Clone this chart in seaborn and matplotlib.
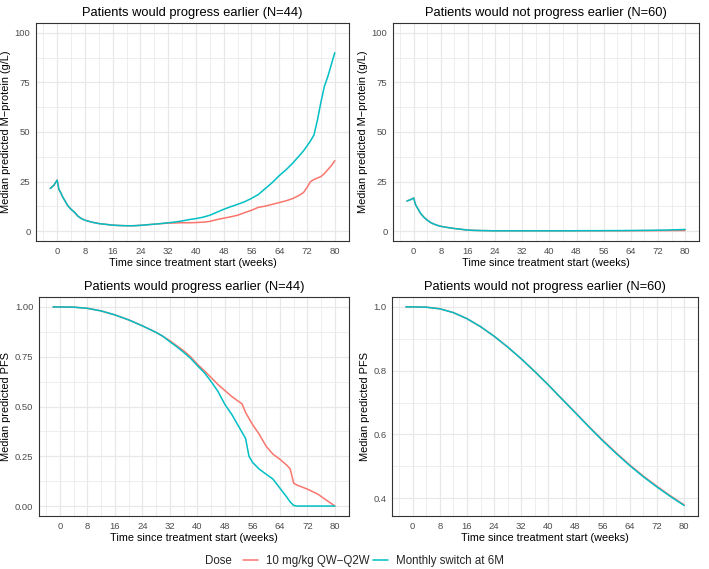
import numpy as np
import pandas as pd
import matplotlib
matplotlib.use("Agg")
import matplotlib.pyplot as plt
from matplotlib.ticker import MultipleLocator, FixedLocator, FormatStrFormatter
import seaborn as sns

# ---- data ----
dose_labels = ["10 mg/kg QW\u2212Q2W", "Monthly switch at 6M"]
dose_colors = ["#F8766D", "#00BFC4"]

# M-protein panels share one time grid
mp_weeks = [-2, -1, 0, 0.5, 1, 1.5, 2, 3, 4, 5, 6, 7, 8, 10, 12, 14, 16, 18, 20,
            22, 24, 26, 28, 30, 32, 34, 36, 38, 40, 42, 44, 46, 48, 50, 52, 54,
            56, 58, 60, 62, 64, 66, 68, 70, 71, 72, 73, 74, 75, 76, 77, 78, 79, 80]

mp_prog_dose = [21.5, 23, 25.7, 21, 19.5, 17.5, 16, 13, 11, 9.5, 7.5, 6.3, 5.5, 4.5,
                3.8, 3.4, 3.0, 2.8, 2.7, 2.7, 2.9, 3.2, 3.5, 3.8, 4.0, 4.1, 4.2, 4.2,
                4.3, 4.5, 4.9, 5.8, 6.5, 7.2, 8.0, 9.3, 10.5, 12.0, 12.6, 13.5, 14.4,
                15.3, 16.5, 18.3, 19.5, 22.0, 25.0, 26.0, 26.8, 27.5, 29.0, 31.0, 33.0, 35.5]
mp_prog_switch = [21.5, 23, 25.7, 21, 19.5, 17.5, 16, 13, 11, 9.5, 7.5, 6.3, 5.5, 4.5,
                  3.8, 3.4, 3.0, 2.8, 2.7, 2.7, 2.9, 3.2, 3.5, 3.8, 4.2, 4.6, 5.1, 5.8,
                  6.3, 7.0, 8.0, 9.5, 11.0, 12.3, 13.5, 14.8, 16.5, 18.5, 21.5, 24.5,
                  28.0, 31.0, 34.5, 38.5, 40.5, 43.0, 45.5, 48.5, 56.0, 65.0, 73.0,
                  78.0, 84.0, 90.0]

mp_noprog_dose = [15.2, 15.8, 16.7, 13.5, 12.0, 10.5, 9.0, 7.0, 5.5, 4.3, 3.5, 2.9, 2.4,
                  1.8, 1.3, 0.9, 0.5, 0.35, 0.25, 0.2, 0.15, 0.15, 0.15, 0.15, 0.15,
                  0.15, 0.15, 0.15, 0.15, 0.15, 0.15, 0.15, 0.15, 0.15, 0.15, 0.15,
                  0.15, 0.15, 0.15, 0.15, 0.18, 0.2, 0.2, 0.22, 0.22, 0.24, 0.24, 0.25,
                  0.26, 0.27, 0.28, 0.29, 0.3, 0.32]
mp_noprog_switch = [15.2, 15.8, 16.7, 13.5, 12.0, 10.5, 9.0, 7.0, 5.5, 4.3, 3.5, 2.9, 2.4,
                    1.8, 1.3, 0.9, 0.5, 0.35, 0.25, 0.2, 0.15, 0.15, 0.15, 0.15, 0.15,
                    0.15, 0.15, 0.15, 0.15, 0.15, 0.15, 0.15, 0.18, 0.2, 0.2, 0.2,
                    0.22, 0.24, 0.25, 0.27, 0.3, 0.33, 0.36, 0.4, 0.42, 0.45, 0.48, 0.5,
                    0.55, 0.6, 0.65, 0.7, 0.75, 0.8]

# PFS, progress earlier
pfs_prog_weeks = [-2, 0, 4, 8, 12, 16, 20, 24, 28, 30, 32, 34, 36, 38, 40, 42, 44, 46,
                  48, 50, 52, 53, 54, 55, 56, 58, 60, 62, 64, 66, 67, 68, 69, 72, 75, 80]
pfs_prog_dose = [1.0, 1.0, 0.999, 0.993, 0.98, 0.96, 0.935, 0.905, 0.872, 0.852, 0.83,
                 0.805, 0.78, 0.75, 0.712, 0.68, 0.645, 0.61, 0.58, 0.55, 0.525, 0.513,
                 0.47, 0.44, 0.41, 0.36, 0.30, 0.26, 0.235, 0.205, 0.186, 0.115, 0.105,
                 0.085, 0.06, 0.0]
pfs_prog_switch = [1.0, 1.0, 0.999, 0.993, 0.98, 0.96, 0.935, 0.905, 0.872, 0.852, 0.825,
                   0.80, 0.772, 0.742, 0.705, 0.67, 0.625, 0.575, 0.51, 0.46, 0.40, 0.37,
                   0.34, 0.25, 0.22, 0.185, 0.16, 0.135, 0.09, 0.045, 0.02, 0.003, 0.0,
                   0.0, 0.0, 0.0]

# PFS, not progress earlier
pfs_noprog_weeks = [-2, 0, 4, 8, 12, 16, 20, 24, 28, 32, 36, 40, 44, 48, 52, 56, 60, 64,
                    68, 72, 76, 80]
pfs_noprog_dose = [1.0, 1.0, 0.999, 0.994, 0.982, 0.963, 0.938, 0.908, 0.874, 0.837,
                   0.797, 0.755, 0.711, 0.668, 0.624, 0.582, 0.542, 0.504, 0.469, 0.437,
                   0.407, 0.379]
pfs_noprog_switch = [1.0, 1.0, 0.999, 0.994, 0.982, 0.963, 0.938, 0.908, 0.874, 0.837,
                     0.797, 0.755, 0.711, 0.667, 0.623, 0.580, 0.540, 0.502, 0.467, 0.435,
                     0.405, 0.377]

title_prog = "Patients would progress earlier (N=44)"
title_noprog = "Patients would not progress earlier (N=60)"
xlabel = "Time since treatment start (weeks)"
ylabel_mp = "Median predicted M\u2212protein (g/L)"
ylabel_pfs = "Median predicted PFS"


def long_df(weeks, dose_vals, switch_vals):
    ''' two series -> long format for seaborn '''
    return pd.concat([
        pd.DataFrame({"week": weeks, "value": dose_vals, "Dose": dose_labels[0]}),
        pd.DataFrame({"week": weeks, "value": switch_vals, "Dose": dose_labels[1]}),
    ], ignore_index=True)


sns.set_theme(style="white")
plt.rcParams["font.family"] = ["Liberation Sans", "DejaVu Sans"]

W, H = 709, 569
fig = plt.figure(figsize=(W / 100, H / 100), dpi=100)


def add_ax(left, right, top, bottom):
    return fig.add_axes([left / W, 1 - bottom / H, (right - left) / W, (bottom - top) / H])


panels = [
    (add_ax(36, 349, 23, 241), long_df(mp_weeks, mp_prog_dose, mp_prog_switch), title_prog, ylabel_mp),
    (add_ax(393, 699, 23, 241), long_df(mp_weeks, mp_noprog_dose, mp_noprog_switch), title_noprog, ylabel_mp),
    (add_ax(39, 349, 297, 516), long_df(pfs_prog_weeks, pfs_prog_dose, pfs_prog_switch), title_prog, ylabel_pfs),
    (add_ax(392, 698, 297, 516), long_df(pfs_noprog_weeks, pfs_noprog_dose, pfs_noprog_switch), title_noprog, ylabel_pfs),
]

grid_col = "#E8E8E8"
for i, (ax, df, title, ylab) in enumerate(panels):
    sns.lineplot(data=df, x="week", y="value", hue="Dose", hue_order=dose_labels,
                 palette=dose_colors, estimator=None, sort=False, linewidth=1.1,
                 legend=False, ax=ax)
    ax.set_xlim(-6.1, 84.1)
    ax.xaxis.set_major_locator(MultipleLocator(8))
    ax.xaxis.set_minor_locator(MultipleLocator(4))
    if i < 2:
        ax.set_ylim(-5, 105)
        ax.yaxis.set_major_locator(MultipleLocator(25))
        ax.yaxis.set_minor_locator(MultipleLocator(12.5))
    elif i == 2:
        ax.set_ylim(-0.05, 1.05)
        ax.yaxis.set_major_locator(MultipleLocator(0.25))
        ax.yaxis.set_minor_locator(MultipleLocator(0.125))
        ax.yaxis.set_major_formatter(FormatStrFormatter("%.2f"))
    else:
        ax.set_ylim(0.344, 1.031)
        ax.yaxis.set_major_locator(FixedLocator([0.4, 0.6, 0.8, 1.0]))
        ax.yaxis.set_minor_locator(FixedLocator([0.5, 0.7, 0.9]))
        ax.yaxis.set_major_formatter(FormatStrFormatter("%.1f"))
    ax.grid(which="major", color=grid_col, linewidth=0.9)
    ax.grid(which="minor", color=grid_col, linewidth=0.5)
    ax.set_axisbelow(True)
    for s in ax.spines.values():
        s.set_color("#333333")
        s.set_linewidth(0.8)
    ax.tick_params(which="major", axis="both", direction="out", length=2.5, width=0.6,
                   color="#333333", labelcolor="#4D4D4D", labelsize=6.8, pad=1.5)
    ax.tick_params(which="minor", length=0)
    ax.set_title(title, fontsize=9.3, pad=5, color="black")
    ax.set_xlabel(xlabel, fontsize=7.8, labelpad=2, color="black")
    ax.set_ylabel(ylab, fontsize=7.9, labelpad=2.5, color="black")

# legend along the bottom
handles = [plt.Line2D([], [], color=c, linewidth=1.1) for c in dose_colors]
fig.legend(handles, dose_labels, loc="center", bbox_to_anchor=(373.5 / W, 1 - 561 / H),
           ncol=2, frameon=False, fontsize=8.3, handlelength=1.3, handletextpad=0.7,
           columnspacing=0.3, borderpad=0, borderaxespad=0)
fig.text(205 / W, 1 - 561 / H, "Dose", fontsize=8.3, ha="left", va="center")

fig.savefig("out.png", dpi=100)
